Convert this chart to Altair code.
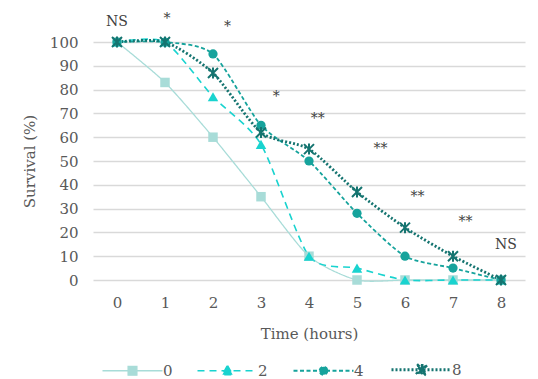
import altair as alt
import pandas as pd

# ---- data ----
time = [0, 1, 2, 3, 4, 5, 6, 7, 8]
series_names = ["0", "2", "4", "8"]
s0 = [100, 83, 60, 35, 10, 0, 0, 0, 0]
s2 = [100, 100, 77, 57, 10, 5, 0, 0, 0]
s4 = [100, 100, 95, 65, 50, 28, 10, 5, 0]
s8 = [100, 100, 87, 62, 55, 37, 22, 10, 0]

ann_text = ["NS", "*", "*", "*", "**", "**", "**", "**", "NS"]
ann_x = [0, 1.04, 2.3, 3.32, 4.18, 5.49, 6.26, 7.26, 8.1]
ann_y = [108.4, 109.7, 106.3, 76.9, 67.6, 55, 34.9, 24.4, 14.7]

# ---- styles ----
colors = ["#a8dcd8", "#19d3cf", "#16a39c", "#157470"]
dashes = [[1, 0], [7, 5], [4, 2.5], [2, 2]]
widths = [1.3, 1.6, 1.8, 2.8]
shapes = ["square", "triangle-up", "circle", "M-1,-1L1,1M1,-1L-1,1M0,-1.1L0,1.1"]
filled = [True, True, True, False]
sizes = [90, 110, 85, 100]
legend_paths = [
    "M-7.5,0H7.5M-1.1,-1.1H1.1V1.1H-1.1Z",
    "M-7.5,0H7.5M0,-1.3L1.3,1L-1.3,1Z",
    "M-7.5,0H7.5M1,0A1,1,0,1,1,-1,0A1,1,0,1,1,1,0Z",
    "M-7.5,0H7.5M-0.894,-1.106L1.106,0.894L0.894,1.106L-1.106,-0.894Z"
    "M1.106,-0.894L-0.894,1.106L-1.106,0.894L0.894,-1.106Z"
    "M-0.15,-1.1H0.15V1.1H-0.15Z",
]

FONT = "DejaVu Serif"
GRAY = "#595959"
FS = 15

rows = []
for name, vals in zip(series_names, [s0, s2, s4, s8]):
    for t, v in zip(time, vals):
        rows.append({"series": name, "time": t, "value": v})
df = pd.DataFrame(rows)
ann = pd.DataFrame({"text": ann_text, "time": ann_x, "value": ann_y})

x_scale = alt.Scale(domain=[-0.5, 8.5], nice=False, zero=False)
y_scale = alt.Scale(domain=[0, 100], nice=False, zero=False)
x_axis = alt.Axis(values=time, grid=False, domain=False, ticks=False,
                  labelPadding=15, labelFont=FONT, labelFontSize=FS,
                  labelColor=GRAY, title="Time (hours)", titleFont=FONT,
                  titleFontSize=FS, titleFontWeight="normal", titleColor=GRAY,
                  titlePadding=16)
y_axis = alt.Axis(values=list(range(0, 101, 10)), grid=True, domain=False,
                  ticks=False, gridColor="#d9d9d9", gridWidth=1.3,
                  labelPadding=15, labelFont=FONT, labelFontSize=FS,
                  labelColor=GRAY, labelOverlap=False, title="Survival (%)",
                  titleFont=FONT, titleFontSize=FS, titleFontWeight="normal",
                  titleColor=GRAY, titlePadding=12)
x_enc = alt.X("time:Q", scale=x_scale, axis=x_axis)
y_enc = alt.Y("value:Q", scale=y_scale, axis=y_axis)

base = alt.Chart(df)
layers = []
for i, name in enumerate(series_names):
    layers.append(
        base.transform_filter(alt.datum.series == name)
        .mark_line(color=colors[i], strokeDash=dashes[i], strokeWidth=widths[i],
                   interpolate="cardinal", tension=0.3)
        .encode(x=x_enc, y=y_enc)
    )
for i, name in enumerate(series_names):
    layers.append(
        base.transform_filter(alt.datum.series == name)
        .mark_point(shape=shapes[i], filled=filled[i], color=colors[i],
                    size=sizes[i], opacity=1, strokeWidth=2)
        .encode(x=x_enc, y=y_enc)
    )

layers.append(
    alt.Chart(ann).mark_text(font=FONT, fontSize=14, color="#404040",
                             baseline="middle")
    .encode(x=x_enc, y=y_enc, text="text:N")
)

leg = alt.Legend(orient="none", legendX=32, legendY=320, direction="horizontal",
                 columns=4, title=None, symbolSize=64, labelOffset=23,
                 columnPadding=21, labelFont=FONT, labelFontSize=FS,
                 labelColor=GRAY, symbolOpacity=1)
dom = series_names
layers.append(
    base.transform_filter("false").mark_point(opacity=1)
    .encode(
        fill=alt.Fill("series:N", scale=alt.Scale(domain=dom, range=colors), legend=leg),
        stroke=alt.Stroke("series:N", scale=alt.Scale(domain=dom, range=colors), legend=leg),
        shape=alt.Shape("series:N", scale=alt.Scale(domain=dom, range=legend_paths), legend=leg),
        strokeDash=alt.StrokeDash("series:N", scale=alt.Scale(domain=dom, range=dashes), legend=leg),
        strokeWidth=alt.StrokeWidth("series:N", scale=alt.Scale(type="ordinal", domain=dom, range=widths), legend=leg),
    )
)

chart = (
    alt.layer(*layers)
    .properties(width=432, height=238, autosize="none",
                padding={"left": 93, "top": 42, "right": 13, "bottom": 99})
    .configure_view(stroke=None)
)

chart.save("out.html", embed_options={"renderer": "svg", "actions": False})
